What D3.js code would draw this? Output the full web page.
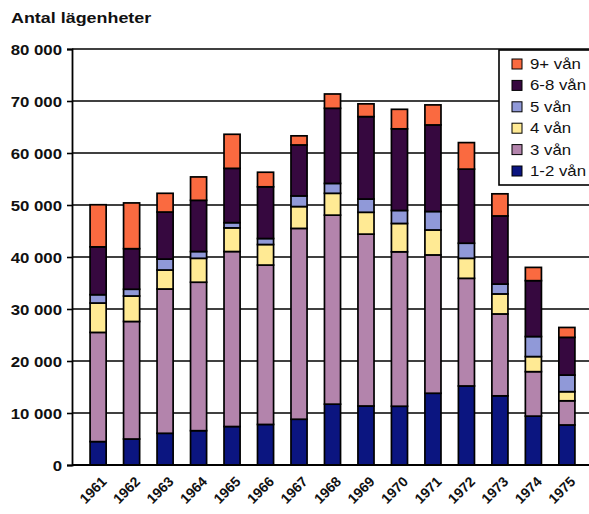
<!DOCTYPE html>
<html>
<head>
<meta charset="utf-8">
<script src="https://cdn.jsdelivr.net/npm/d3@7"></script>
<style>
  html, body { margin: 0; padding: 0; background: #fff; }
  svg { display: block; font-family: "Liberation Sans", Arial, sans-serif; }
</style>
</head>
<body>
<svg id="chart" width="589" height="514"></svg>
<script>
// Färdigställda lägenheter per år, fördelat på antal våningar i huset
const years = ["1961","1962","1963","1964","1965","1966","1967","1968","1969","1970","1971","1972","1973","1974","1975"];
const floors12 = [4500, 5000, 6100, 6600, 7400, 7800, 8800, 11700, 11350, 11300, 13800, 15200, 13300, 9400, 7700];
const floors3  = [21000, 22600, 27750, 28550, 33650, 30650, 36700, 36350, 33050, 29700, 26600, 20700, 15750, 8550, 4650];
const floors4  = [5650, 4900, 3650, 4600, 4550, 3950, 4200, 4200, 4200, 5450, 4800, 3850, 3850, 2900, 1750];
const floors5  = [1600, 1300, 2100, 1300, 1000, 1150, 2050, 1900, 2550, 2500, 3550, 2900, 1900, 3850, 3200];
const floors68 = [9200, 7800, 9050, 9850, 10450, 9950, 9800, 14450, 15850, 15700, 16650, 14250, 13100, 10750, 7250];
const floors9  = [8100, 8800, 3600, 4500, 6550, 2800, 1750, 2750, 2450, 3750, 3850, 5100, 4250, 2550, 1900];
const seriesNames = ["1-2 vån", "3 vån", "4 vån", "5 vån", "6-8 vån", "9+ vån"];
const seriesColors = ["#0b1580", "#b384ac", "#ffea94", "#9099d8", "#36083f", "#fa6a40"];
const yTicks = [0, 10000, 20000, 30000, 40000, 50000, 60000, 70000, 80000];

const seriesValues = [floors12, floors3, floors4, floors5, floors68, floors9];
const rows = years.map((yr, i) => {
  const r = { year: yr };
  seriesNames.forEach((n, k) => { r[n] = seriesValues[k][i]; });
  return r;
});

const svg = d3.select("#chart");
const plotLeft = 72, plotRight = 589, plotTop = 49, plotBottom = 465;
const sx = 1.2; // horizontal text stretch

const x = d3.scaleBand().domain(years).range([plotLeft, 593]).paddingInner(0.52).paddingOuter(0.54);
const y = d3.scaleLinear().domain([0, 80000]).range([plotBottom, plotTop]);
const color = d3.scaleOrdinal().domain(seriesNames).range(seriesColors);
const fmt = v => d3.format(",")(v).replace(/,/g, " ");

// Title
svg.append("text")
  .attr("transform", `translate(11,23) scale(1.28,1)`)
  .attr("font-size", 14).attr("font-weight", "bold").attr("fill", "#111")
  .text("Antal lägenheter");

// Horizontal gridlines
svg.append("g").selectAll("line").data(yTicks.filter(d => d > 0)).join("line")
  .attr("x1", plotLeft).attr("x2", plotRight)
  .attr("y1", d => y(d)).attr("y2", d => y(d))
  .attr("stroke", "#000").attr("stroke-width", 1.6);

// Y axis
const yAxis = svg.append("g").attr("transform", `translate(${plotLeft},0)`)
  .call(d3.axisLeft(y).tickValues(yTicks).tickSize(5).tickFormat(fmt));
yAxis.select(".domain").attr("stroke", "#000").attr("stroke-width", 1.8);
yAxis.selectAll(".tick line").attr("stroke", "#000").attr("stroke-width", 1.6);
yAxis.selectAll(".tick text")
  .attr("font-size", 14).attr("font-weight", "bold").attr("fill", "#111")
  .attr("font-family", "'Liberation Sans', Arial, sans-serif")
  .attr("x", null).attr("dy", null)
  .attr("transform", `translate(-10,5) scale(${sx},1)`);

// Stacked bars
const stack = d3.stack().keys(seriesNames)(rows);
svg.append("g").selectAll("g").data(stack).join("g")
  .attr("fill", d => color(d.key))
  .selectAll("rect").data(d => d).join("rect")
  .attr("x", d => x(d.data.year))
  .attr("width", x.bandwidth())
  .attr("y", d => y(d[1]))
  .attr("height", d => y(d[0]) - y(d[1]))
  .attr("stroke", "#000").attr("stroke-width", 1.7);

// X axis baseline
svg.append("line")
  .attr("x1", plotLeft).attr("x2", plotRight).attr("y1", plotBottom).attr("y2", plotBottom)
  .attr("stroke", "#000").attr("stroke-width", 1.8);

// Year labels, slanted 45°
svg.append("g").selectAll("text").data(years).join("text")
  .attr("transform", d => `translate(${x(d) + x.bandwidth() / 2 + 6},${plotBottom + 14}) rotate(-45)`)
  .attr("text-anchor", "end")
  .attr("dy", "0.35em")
  .attr("font-size", 14).attr("font-weight", "bold").attr("fill", "#111")
  .text(d => d);

// Legend
const lg = svg.append("g").attr("transform", "translate(499,50)");
lg.append("rect").attr("x", 0).attr("y", 0).attr("width", 100).attr("height", 135)
  .attr("fill", "#fff").attr("stroke", "#000").attr("stroke-width", 1.6);
const legendOrder = seriesNames.slice().reverse();
const item = lg.selectAll("g.item").data(legendOrder).join("g")
  .attr("class", "item")
  .attr("transform", (d, i) => `translate(13,${9 + i * 21.4})`);
item.append("rect").attr("width", 10).attr("height", 10)
  .attr("fill", d => color(d)).attr("stroke", "#000").attr("stroke-width", 1);
item.append("text")
  .attr("transform", `translate(18,10) scale(${sx},1)`)
  .attr("font-size", 14).attr("fill", "#111")
  .text(d => d);
</script>
</body>
</html>
